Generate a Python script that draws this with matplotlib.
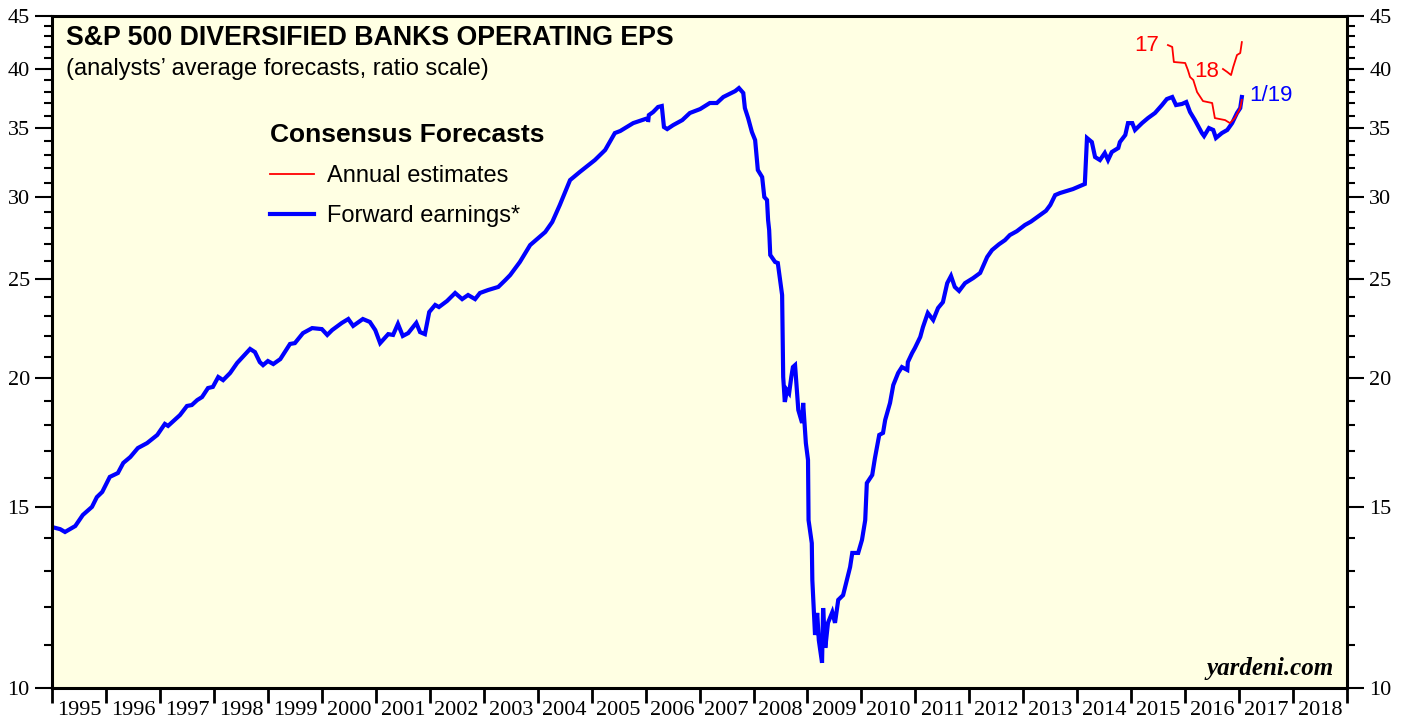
import numpy as np
import matplotlib.pyplot as plt
from matplotlib.lines import Line2D

# forward earnings, weekly-ish readings (year fraction, EPS)
fwd_year = [1995.06, 1995.15, 1995.24, 1995.43, 1995.57, 1995.74, 1995.83, 1995.93,
            1996.07, 1996.22, 1996.32, 1996.45, 1996.59, 1996.76, 1996.95,
            1997.09, 1997.15, 1997.37, 1997.50, 1997.59, 1997.69, 1997.78, 1997.89, 1997.98,
            1998.08, 1998.17, 1998.30, 1998.43, 1998.67, 1998.76, 1998.85, 1998.91,
            1999.00, 1999.10, 1999.23, 1999.41, 1999.50, 1999.65, 1999.82,
            2000.00, 2000.10, 2000.19, 2000.37, 2000.49, 2000.58, 2000.76, 2000.89, 2000.99,
            2001.08, 2001.23, 2001.32, 2001.41, 2001.50, 2001.60, 2001.75, 2001.82, 2001.91, 2001.99,
            2002.10, 2002.17, 2002.32, 2002.47, 2002.60, 2002.71, 2002.84, 2002.93,
            2003.08, 2003.27, 2003.40, 2003.49, 2003.67, 2003.86,
            2004.14, 2004.27, 2004.41, 2004.60, 2004.78,
            2005.06, 2005.25, 2005.43, 2005.53, 2005.77, 2005.99,
            2006.02,
            2006.05, 2006.06, 2006.14, 2006.23, 2006.30, 2006.34, 2006.40, 2006.51, 2006.68, 2006.82,
            2007.01, 2007.19, 2007.32, 2007.44, 2007.66, 2007.73, 2007.81, 2007.84, 2007.90, 2007.97,
            2008.03, 2008.08, 2008.16, 2008.20, 2008.25, 2008.27, 2008.29, 2008.31, 2008.40, 2008.45,
            2008.53, 2008.55, 2008.58, 2008.62, 2008.66, 2008.70, 2008.73, 2008.77, 2008.83, 2008.90,
            2008.92, 2008.97, 2009.01, 2009.02, 2009.08, 2009.09, 2009.14, 2009.18, 2009.21, 2009.27,
            2009.29, 2009.33, 2009.38, 2009.46, 2009.51, 2009.57, 2009.66, 2009.73, 2009.79, 2009.83,
            2009.94, 2010.01, 2010.07, 2010.10, 2010.20, 2010.25, 2010.33, 2010.40, 2010.44, 2010.53,
            2010.59, 2010.68, 2010.75, 2010.85, 2010.86, 2010.94, 2010.99,
            2011.09, 2011.14, 2011.23, 2011.33, 2011.42, 2011.51, 2011.59, 2011.66, 2011.73, 2011.81, 2011.92,
            2012.07, 2012.20, 2012.33, 2012.42, 2012.55, 2012.66, 2012.75, 2012.88,
            2013.03, 2013.14, 2013.31, 2013.42, 2013.50, 2013.59, 2013.68, 2013.92,
            2014.14, 2014.18, 2014.27, 2014.33, 2014.42, 2014.51, 2014.57, 2014.64, 2014.76, 2014.79,
            2014.89, 2014.94, 2015.02, 2015.07, 2015.20, 2015.31, 2015.44, 2015.57, 2015.66, 2015.76,
            2015.83, 2015.94, 2016.02, 2016.09, 2016.18, 2016.31, 2016.35, 2016.44, 2016.52, 2016.57,
            2016.68, 2016.78, 2016.87, 2016.96, 2017.02, 2017.05]
fwd_eps = [14.31, 14.27, 14.18, 14.37, 14.73, 15.00, 15.33, 15.51,
           16.04, 16.18, 16.55, 16.77, 17.11, 17.30, 17.62,
           18.06, 17.98, 18.42, 18.80, 18.84, 19.05, 19.18, 19.57, 19.62,
           20.06, 19.92, 20.24, 20.70, 21.36, 21.21, 20.74, 20.60,
           20.79, 20.65, 20.88, 21.60, 21.64, 22.13, 22.38,
           22.33, 22.04, 22.28, 22.64, 22.84, 22.49, 22.84, 22.69, 22.28,
           21.64, 22.08, 22.04, 22.59, 21.99, 22.13, 22.64, 22.18, 22.08, 23.20,
           23.57, 23.46, 23.78, 24.21, 23.88, 24.10, 23.88, 24.21,
           24.37, 24.54, 24.92, 25.20, 25.95, 26.95,
           27.75, 28.38, 29.48, 31.17, 31.74,
           32.60, 33.34, 34.63, 34.79, 35.41, 35.73,
           np.nan,
           35.65, 36.05, 36.30, 36.71, 36.79, 35.10, 34.94, 35.25, 35.65, 36.22,
           36.54, 37.04, 37.04, 37.54, 38.04, 38.30, 37.88, 36.62, 35.81, 34.71,
           34.09, 31.88, 31.38, 30.01, 29.81, 28.50, 27.87, 26.36, 25.95, 25.89,
           24.10, 20.06, 18.97, 19.48, 19.35, 20.06, 20.51, 20.60, 18.63, 18.10,
           18.93, 17.30, 16.66, 14.56, 13.83, 12.73, 11.26, 11.83, 11.13, 10.58,
           11.96, 10.94, 11.57, 11.85, 11.57, 12.18, 12.31, 12.73, 13.11, 13.53,
           13.53, 13.93, 14.56, 15.82, 16.11, 16.73, 17.62, 17.70, 18.22, 18.93,
           19.70, 20.24, 20.51, 20.38, 20.74, 21.17, 21.40,
           21.94, 22.43, 23.15, 22.79, 23.41, 23.72, 24.75, 25.15, 24.54, 24.32, 24.75,
           25.03, 25.32, 26.24, 26.65, 27.00, 27.25, 27.56, 27.80,
           28.19, 28.40, 28.82, 29.10, 29.48, 30.14, 30.28, 30.55,
           30.90, 34.25, 33.94, 32.82, 32.60, 33.12, 32.60, 33.19, 33.49, 33.94,
           34.48, 35.41, 35.41, 34.87, 35.41, 35.81, 36.22, 36.87, 37.37, 37.54,
           36.87, 36.96, 37.12, 36.30, 35.65, 34.63, 34.40, 35.02, 34.87, 34.25,
           34.63, 34.87, 35.41, 36.22, 36.62, 37.54]

# annual estimates (red)
est17_year = [2015.68, 2015.76, 2015.79, 2016.00, 2016.05, 2016.09, 2016.15, 2016.22,
              2016.33, 2016.50, 2016.55, 2016.74, 2016.83, 2016.92, 2017.02, 2017.05]
est17_eps = [42.17, 41.99, 40.60, 40.51, 39.88, 39.26, 39.00, 37.96,
             37.20, 37.04, 35.81, 35.65, 35.41, 35.81, 36.62, 37.29]
est18_year = [2016.70, 2016.78, 2016.85, 2016.89, 2016.96, 2017.02, 2017.05]
est18_eps = [39.97, 39.70, 39.43, 40.15, 41.24, 41.42, 42.45]

years = list(range(1995, 2019))
y_major = [10, 15, 20, 25, 30, 35, 40, 45]
y_minor = [v for v in range(11, 45) if v % 5 != 0]

BLUE = '#0000ff'
RED = '#ff0000'
serif = 'Liberation Serif'
sans = 'Liberation Sans'

fig = plt.figure(figsize=(14.07, 7.19), dpi=100)
ax = fig.add_axes([0.0370, 0.0431, 0.9204, 0.9346])
ax.set_facecolor('#ffffe3')

ax.plot(fwd_year, fwd_eps, color=BLUE, lw=3.0, solid_joinstyle='miter')
ax.plot(est17_year, est17_eps, color=RED, lw=1.3)
ax.plot(est18_year, est18_eps, color=RED, lw=1.3)

ax.set_yscale('log')
ax.set_ylim(10, 45)
ax.set_xlim(1995, 2019)

ax.yaxis.set_major_locator(plt.FixedLocator(y_major))
ax.yaxis.set_minor_locator(plt.FixedLocator(y_minor))
ax.yaxis.set_major_formatter(plt.FixedFormatter([str(v) for v in y_major]))
ax.yaxis.set_minor_formatter(plt.NullFormatter())
ax.tick_params(axis='y', which='both', left=True, right=True, labelleft=True, labelright=True,
               direction='out', labelsize=16, pad=4)
ax.tick_params(axis='y', which='major', length=12, width=1.5)
ax.tick_params(axis='y', which='minor', length=6, width=1.5)
for lab in ax.get_yticklabels():
    lab.set_family(serif)

ax.xaxis.set_major_locator(plt.FixedLocator(years + [2019]))
ax.xaxis.set_major_formatter(plt.NullFormatter())
ax.xaxis.set_minor_locator(plt.FixedLocator([y + 0.5 for y in years]))
ax.xaxis.set_minor_formatter(plt.FixedFormatter([str(y) for y in years]))
ax.tick_params(axis='x', which='major', direction='out', length=11, width=2)
ax.tick_params(axis='x', which='minor', length=0, labelsize=16, pad=9.5)
for lab in ax.get_xticklabels(minor=True):
    lab.set_family(serif)

for s in ax.spines.values():
    s.set_linewidth(2.2)

ax.text(0.011, 0.986, 'S&P 500 DIVERSIFIED BANKS OPERATING EPS', transform=ax.transAxes,
        fontsize=19.3, fontweight='bold', family=sans, va='top', ha='left')
ax.text(0.011, 0.937, '(analysts\u2019 average forecasts, ratio scale)', transform=ax.transAxes,
        fontsize=17, family=sans, va='top', ha='left')

handles = [Line2D([], [], color=RED, lw=1.3), Line2D([], [], color=BLUE, lw=3.0)]
leg = ax.legend(handles, ['Annual estimates', 'Forward earnings*'], title='Consensus Forecasts',
                loc='upper left', bbox_to_anchor=(0.152, 0.873), frameon=False,
                handlelength=1.85, handletextpad=0.55, labelspacing=0.78,
                prop={'family': sans, 'size': 17}, alignment='left')
leg.get_title().set_fontsize(19)
leg.get_title().set_fontweight('bold')
leg.get_title().set_family(sans)

ax.annotate('17', (est17_year[0], est17_eps[0]), xytext=(-6, 0), textcoords='offset points',
            color=RED, fontsize=16, family=sans, ha='right', va='center')
ax.annotate('18', (est18_year[0], est18_eps[0]), xytext=(-3, -2), textcoords='offset points',
            color=RED, fontsize=16, family=sans, ha='right', va='center')
ax.annotate('1/19', (fwd_year[-1], fwd_eps[-1]), xytext=(5, 1), textcoords='offset points',
            color=BLUE, fontsize=16, family=sans, ha='left', va='center')

ax.text(0.990, 0.012, 'yardeni.com', transform=ax.transAxes, fontsize=18,
        family=serif, fontweight='bold', style='italic', ha='right', va='bottom')

fig.savefig('out.png', dpi=100)
